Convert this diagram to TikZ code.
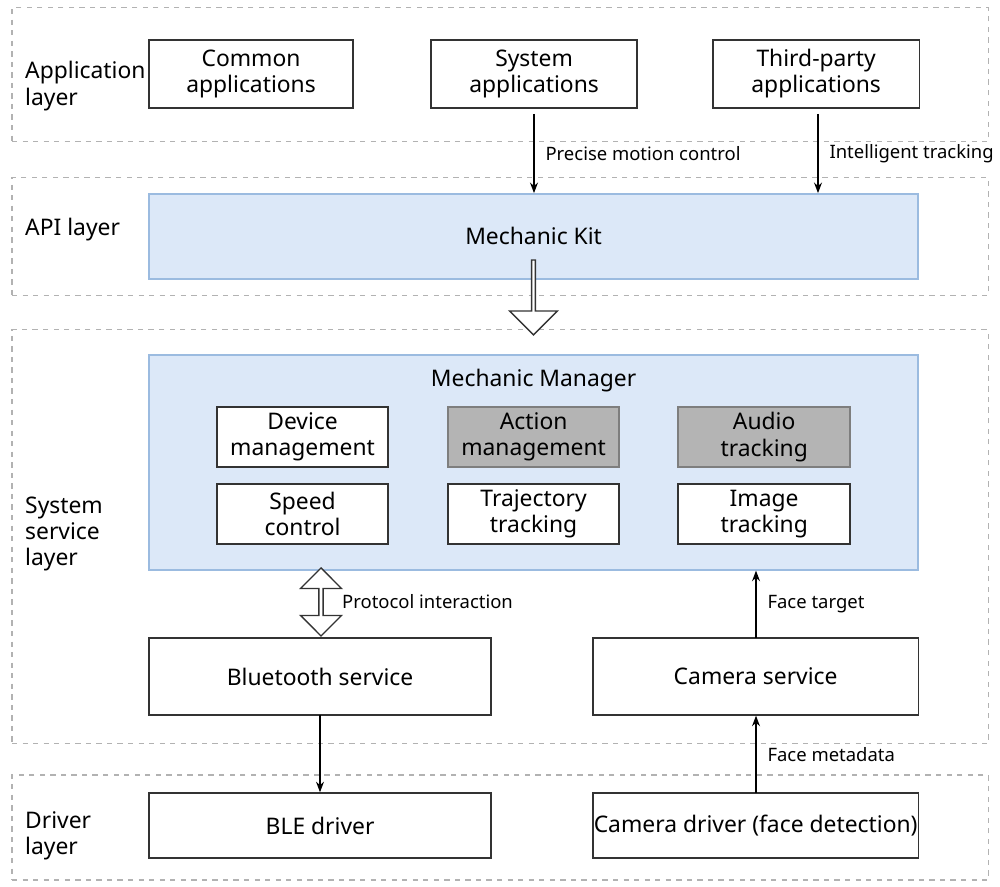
\documentclass[tikz,border=0pt]{standalone}
\usepackage{fontspec}
\setmainfont{Noto Sans}
\usetikzlibrary{positioning,shapes.arrows,arrows.meta}
\definecolor{kitblue}{HTML}{DCE8F8}
\definecolor{kitline}{HTML}{9BBBE0}
\definecolor{modgray}{HTML}{B4B4B4}
\tikzset{
  layer/.style={draw=gray!60,dashed,line width=0.6pt},
  box/.style={draw=black!80,fill=white,line width=0.8pt,align=center,font=\fontsize{13}{15}\selectfont,inner sep=0pt},
  kit/.style={draw=kitline,fill=kitblue,line width=0.8pt,inner sep=0pt},
  grey box/.style={box,fill=modgray,draw=modgray!70!black},
  lbl/.style={font=\fontsize{13}{15}\selectfont,align=left,anchor=west},
  conn/.style={-{Stealth[length=6pt]},line width=0.8pt},
  tag/.style={font=\fontsize{10.5}{12}\selectfont,anchor=west},
}
% px to cm, y measured from top
\newcommand\pbox[6]{%
\node[#1,minimum width={(#4-#3)*0.02cm},minimum height={(#6-#5)*0.02cm}] (#2) at ({(#3+#4)/2*0.02},{(886-(#5+#6)/2)*0.02}) {};}
\begin{document}
\begin{tikzpicture}
  \useasboundingbox (0,0) rectangle (20,17.72);
  % layers
  \pbox{layer}{Lapp}{12}{988}{8}{142}
  \pbox{layer}{Lapi}{12}{988}{178}{296}
  \pbox{layer}{Lsys}{12}{988}{330}{744}
  \pbox{layer}{Ldrv}{12}{988}{775}{880}
  \node[lbl] at (0.38,16.0) {Application\\layer};
  \node[lbl] at (0.38,13.12) {API layer};
  \node[lbl] at (0.38,7.04) {System\\service\\layer};
  \node[lbl] at (0.38,1.0) {Driver\\layer};
  % application layer
  \pbox{box}{common}{149}{353}{40}{108}
  \pbox{box}{sysapp}{431}{637}{40}{108}
  \pbox{box}{third}{713}{919}{40}{108}
  \node[box,draw=none,fill=none] at (common) {Common\\applications};
  \node[box,draw=none,fill=none] at (sysapp) {System\\applications};
  \node[box,draw=none,fill=none] at (third) {Third-party\\applications};
  % api layer
  \pbox{kit}{kit}{149}{918}{194}{279}
  \node[box,draw=none,fill=none] at (kit) {Mechanic Kit};
  % system service layer
  \pbox{kit}{manager}{149}{918}{355}{570}
  \node[box,draw=none,fill=none,below=0.28 of manager.north] {Mechanic Manager};
  \pbox{box}{devm}{217}{388}{407}{467}
  \pbox{grey box}{actm}{448}{619}{407}{467}
  \pbox{grey box}{audt}{678}{850}{407}{467}
  \pbox{box}{speed}{217}{388}{484}{544}
  \pbox{box}{traj}{448}{619}{484}{544}
  \pbox{box}{imgt}{678}{850}{484}{544}
  \node[box,draw=none,fill=none] at (devm) {Device\\management};
  \node[box,draw=none,fill=none] at (actm) {Action\\management};
  \node[box,draw=none,fill=none] at (audt) {Audio\\tracking};
  \node[box,draw=none,fill=none] at (speed) {Speed\\control};
  \node[box,draw=none,fill=none] at (traj) {Trajectory\\tracking};
  \node[box,draw=none,fill=none] at (imgt) {Image\\tracking};
  \pbox{box}{bt}{149}{491}{638}{715}
  \pbox{box}{cam}{593}{918}{638}{715}
  \node[box,draw=none,fill=none] at (bt) {Bluetooth service};
  \node[box,draw=none,fill=none] at (cam) {Camera service};
  % driver layer
  \pbox{box}{ble}{149}{491}{793}{858}
  \pbox{box}{camdrv}{593}{918}{793}{858}
  \node[box,draw=none,fill=none] at (ble) {BLE driver};
  \node[box,draw=none,fill=none] at (camdrv) {Camera driver (face detection)};
  % hollow arrows
  \node[single arrow,draw=black!80,fill=white,line width=0.8pt,shape border rotate=270,
    minimum height=1.5cm,minimum width=0.96cm,single arrow head extend=0.16cm,inner sep=0pt]
    (bigarr) at (10.67,11.79) {};
  \node[double arrow,draw=black!80,fill=white,line width=0.8pt,shape border rotate=90,
    minimum height=1.36cm,minimum width=0.82cm,double arrow head extend=0.12cm,inner sep=0pt]
    (dblarr) at (6.42,5.68) {};
  \node[tag] at (6.72,5.68) {Protocol interaction};
  % connectors
  \coordinate (p1) at (10.68,15.44);
  \draw[conn] (p1) -- (p1 |- kit.north) node[tag,midway,right=0.1] {Precise motion control};
  \coordinate (p2) at (16.36,15.44);
  \draw[conn] (p2) -- (p2 |- kit.north) node[tag,midway,right=0.1] {Intelligent tracking};
  \coordinate (p3) at (6.4,3.42);
  \draw[conn] (p3) -- (p3 |- ble.north);
  \coordinate (p4) at (15.12,1.86);
  \draw[conn] (p4) -- (p4 |- cam.south) node[tag,midway,right=0.1] {Face metadata};
  \coordinate (p5) at (15.12,4.96);
  \draw[conn] (p5) -- (p5 |- manager.south) node[tag,midway,right=0.1] {Face target};
\end{tikzpicture}
\end{document}
